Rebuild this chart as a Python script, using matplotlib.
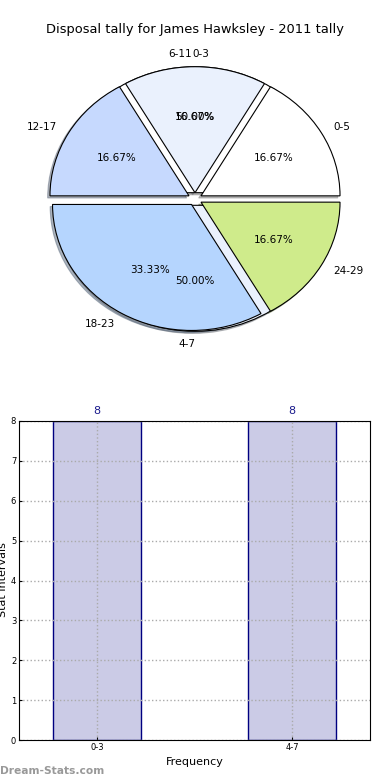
import matplotlib
matplotlib.use("Agg")
import matplotlib.pyplot as plt

# Data
title = "Disposal tally for James Hawksley - 2011 tally"
pie_labels = ["0-5", "6-11", "12-17", "18-23", "24-29"]
pie_values = [1, 1, 1, 2, 1]
pie_colors = ["#ffffff", "#eaf1fd", "#c6d9fe", "#b5d5fe", "#cfeb8b"]

pie2_labels = ["0-3", "4-7"]
pie2_values = [8, 8]
pie2_colors = ["#ffffff", "#eaf1fd"]

bar_labels = ["0-3", "4-7"]
bar_values = [8, 8]

W, H = 390, 780
fig = plt.figure(figsize=(W / 100, H / 100), dpi=100)

fig.text(0.5, 1 - 30 / H, title, ha="center", va="center", fontsize=9.4)

# ---- Pie ----
top_px, bot_px = 40, 358
axp = fig.add_axes([0, 1 - bot_px / H, 1, (bot_px - top_px) / H])
rx, ry = 139.0, 126.0
shadow = dict(ox=-0.012, oy=-0.012, shade=0.5)

w2, t2, a2 = axp.pie(pie2_values, labels=pie2_labels, colors=pie2_colors,
                     explode=[0.05] * 2, shadow=shadow, autopct="%.2f%%",
                     pctdistance=0.6, labeldistance=1.1,
                     wedgeprops=dict(edgecolor="black", linewidth=0.8),
                     textprops=dict(fontsize=7.5))
w1, t1, a1 = axp.pie(pie_values, labels=pie_labels, colors=pie_colors,
                     explode=[0.05] * 5, shadow=shadow, autopct="%.2f%%",
                     pctdistance=0.6, labeldistance=1.1,
                     wedgeprops=dict(edgecolor="black", linewidth=0.8),
                     textprops=dict(fontsize=7.5))
t1[1].set_ha("right")
t2[0].set_ha("left")
t2[1].set_ha("right")
px, py = t2[0].get_position()
t2[0].set_position((px - 3 / rx, py))
px, py = t1[1].get_position()
t1[1].set_position((px - 3 / rx, py))
axp.set_aspect("auto")
axp.set_xlim(-195 / rx, 195 / rx)
hh = (bot_px - top_px) / 2 / ry
axp.set_ylim(-hh, hh)
axp.axis("off")

# ---- Bar chart ----
L, R, T, B = 19, 370, 421, 740
axb = fig.add_axes([L / W, 1 - B / H, (R - L) / W, (B - T) / H])
x = list(range(len(bar_labels)))
bars = axb.bar(x, bar_values, width=0.45, color="#cbcbe6",
               edgecolor="#000080", linewidth=1, zorder=1)
axb.set_xlim(-0.4, 1.4)
axb.set_ylim(0, 8)
axb.set_xticks(x)
axb.set_xticklabels(bar_labels, fontsize=6)
axb.set_yticks(range(0, 9))
axb.tick_params(axis="both", labelsize=6, direction="in", length=2, pad=2)
axb.grid(True, linestyle=":", color="#aaaaaa", linewidth=1)
axb.set_axisbelow(False)
for sp in axb.spines.values():
    sp.set_zorder(5)
for xi, v in zip(x, bar_values):
    axb.text(xi, v + 0.12, str(v), ha="center", va="bottom",
             fontsize=8, color="#1a1a8c")
axb.set_xlabel("Frequency", fontsize=8, labelpad=4)
fig.text(3 / W, 1 - 580 / H, "Stat Intervals", rotation=90, ha="center",
         va="center", fontsize=8)

fig.text(0 / W, 1 - 771 / H, "Dream-Stats.com", ha="left", va="center",
         fontsize=7.7, color="#999999", fontweight="bold")

fig.savefig("out.png", dpi=100)
